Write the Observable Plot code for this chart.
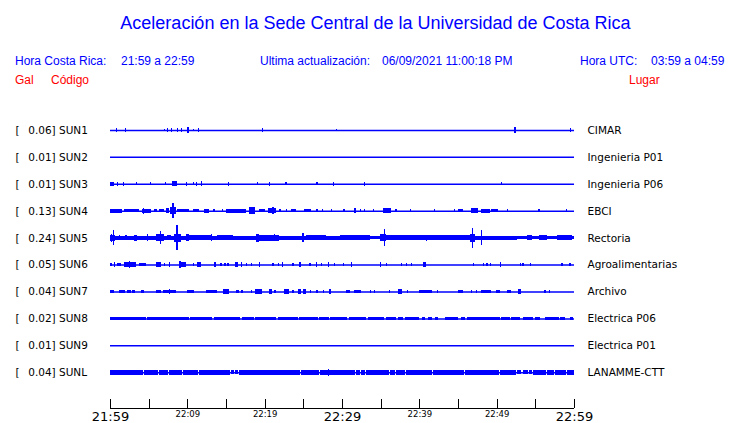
<!DOCTYPE html>
<html>
<head>
<meta charset="utf-8">
<script src="https://cdn.jsdelivr.net/npm/d3@7"></script>
<script src="https://cdn.jsdelivr.net/npm/@observablehq/plot@0.6"></script>
<style>
  html, body { margin: 0; padding: 0; background: #fff; }
  #wrap { position: relative; width: 740px; height: 423px; background: #fff; overflow: hidden; }
  .h { position: absolute; font-family: "Liberation Sans", Arial, sans-serif; font-size: 12px; line-height: 12px; white-space: pre; color: #0000ff; }
  .r { color: #ff0000; }
  #chart { position: absolute; left: 0; top: 100px; }
</style>
</head>
<body>
<div id="wrap">
  <div class="h" id="title" style="left:0;width:751px;text-align:center;top:14px;font-size:18px;line-height:18px">Aceleración en la Sede Central de la Universidad de Costa Rica</div>
  <div class="h" style="left:15px;top:55px">Hora Costa Rica:</div>
  <div class="h" style="left:121px;top:55px">21:59 a 22:59</div>
  <div class="h" style="left:260px;top:55px">Ultima actualización:</div>
  <div class="h" style="left:382px;top:55px">06/09/2021 11:00:18 PM</div>
  <div class="h" style="left:580px;top:55px">Hora UTC:</div>
  <div class="h" style="left:651px;top:55px">03:59 a 04:59</div>
  <div class="h r" style="left:15px;top:74px">Gal</div>
  <div class="h r" style="left:51px;top:74px">Código</div>
  <div class="h r" style="left:629px;top:74px">Lugar</div>
  <div id="chart"></div>
</div>
<script>
// ---- Data ----
const stations = ["SUN1", "SUN2", "SUN3", "SUN4", "SUN5", "SUN6", "SUN7", "SUN8", "SUN9", "SUNL"];
const peaks = ["0.06", "0.01", "0.01", "0.13", "0.24", "0.05", "0.04", "0.02", "0.01", "0.04"];
const places = ["CIMAR", "Ingenieria P01", "Ingenieria P06", "EBCI", "Rectoria", "Agroalimentarias", "Archivo", "Electrica P06", "Electrica P01", "LANAMME-CTT"];

// activity per station: [start minute, end minute, half amplitude (Gal)], minutes after 21:59
const sun1 = [[0.8,0.8,0.027],[1.9,1.9,0.027],[7.0,7.0,0.013],[7.4,7.4,0.02],[7.9,7.9,0.02],[8.7,8.7,0.02],[9.2,9.2,0.02],[10.0,10.2,0.05],[10.7,10.7,0.013],[11.4,11.4,0.027],[19.7,19.7,0.027],[29.2,29.2,0.013],[52.3,52.3,0.04],[59.5,59.5,0.02]];
const sun2 = [];
const sun3 = [[0,0.5,0.02],[0.95,0.95,0.027],[1.7,1.7,0.027],[3.4,3.4,0.013],[5.2,5.2,0.013],[7.1,7.1,0.013],[8.0,8.7,0.033],[9.8,9.8,0.027],[10.7,10.7,0.013],[11.1,11.1,0.02],[11.75,11.75,0.033],[15.3,15.3,0.027],[19.0,19.0,0.013],[20.6,20.6,0.027],[22.7,22.7,0.013],[26.7,26.7,0.013],[28.8,28.8,0.02],[32.8,32.8,0.027],[50.6,50.6,0.013]];
const sun4 = [[0,1.6,0.027],[1.8,3.8,0.02],[4.1,5.3,0.027],[4.3,4.3,0.047],[5.7,6.1,0.02],[6.35,7.0,0.02],[7.2,7.65,0.033],[7.7,8.5,0.053],[8.07,8.07,0.14],[8.7,10.2,0.02],[10.7,11.5,0.02],[12.2,12.8,0.027],[13.4,13.4,0.013],[14.5,14.5,0.013],[15.0,17.6,0.027],[18.0,18.8,0.053],[18.4,18.4,0.06],[19.3,20.0,0.02],[20.4,21.5,0.04],[21.0,21.0,0.053],[21.9,21.9,0.02],[22.8,22.8,0.013],[23.4,24.1,0.02],[25.1,26.0,0.02],[26.7,26.7,0.013],[27.4,27.4,0.013],[28.6,28.6,0.013],[30.2,30.2,0.013],[31.6,31.6,0.033],[32.3,32.3,0.013],[32.8,32.8,0.02],[34.0,34.0,0.013],[35.3,36.4,0.04],[36.9,36.9,0.02],[38.8,38.8,0.013],[41.9,41.9,0.02],[44.5,44.5,0.013],[45.0,45.65,0.02],[46.7,47.6,0.04],[48.0,49.1,0.027],[49.3,50.2,0.02],[51.3,51.5,0.02],[55.4,55.4,0.02],[59.0,59.0,0.013]];
const sun5 = [[0,33.6,0.027],[33.6,34.9,0.015],[34.9,46.5,0.03],[46.5,52.6,0.025],[52.6,60,0.018],[0,0.7,0.047],[0.15,0.15,0.067],[0.4,0.4,0.14],[1.2,1.2,0.033],[2.0,2.0,0.033],[3.1,3.5,0.047],[4.8,4.8,0.053],[5.9,7.0,0.053],[6.5,6.5,0.12],[7.4,7.9,0.04],[8.3,9.2,0.067],[8.6,8.6,0.235],[9.8,10.2,0.053],[10.2,13.0,0.033],[13.05,13.05,0.053],[13.9,15.85,0.04],[18.9,19.3,0.067],[19.3,21.9,0.045],[21.25,21.25,0.053],[24.9,24.9,0.08],[25.4,27.95,0.035],[29.7,33.6,0.035],[34.9,35.7,0.053],[35.4,35.4,0.153],[35.7,40.9,0.035],[40.9,40.9,0.047],[42.2,42.2,0.04],[43.5,43.5,0.04],[44.6,44.6,0.04],[45.65,46.5,0.033],[46.5,47.2,0.067],[46.8,46.8,0.187],[48.0,48.0,0.133],[53.9,54.6,0.033],[55.5,56.5,0.033],[57.8,59.7,0.033]];
const sun6 = [[0,0.3,0.02],[0.5,0.5,0.04],[0.95,1.4,0.013],[1.8,3.3,0.027],[2.5,2.5,0.047],[3.8,4.6,0.02],[5.9,6.6,0.027],[7.0,7.0,0.02],[7.65,7.65,0.027],[8.9,9.8,0.033],[9.0,9.0,0.047],[10.7,10.7,0.02],[11.3,11.75,0.027],[13.5,13.5,0.027],[14.3,14.3,0.013],[14.8,14.8,0.02],[15.2,15.2,0.02],[16.1,16.5,0.027],[16.9,16.9,0.033],[17.6,17.6,0.013],[18.2,18.2,0.013],[19.3,19.3,0.027],[21.0,21.0,0.02],[21.7,21.7,0.02],[22.25,22.25,0.027],[23.6,23.6,0.02],[24.5,24.5,0.027],[25.8,25.8,0.013],[26.65,26.65,0.04],[27.3,27.3,0.013],[28.2,28.2,0.027],[29.0,29.0,0.013],[30.1,30.1,0.013],[31.2,31.2,0.027],[34.9,34.9,0.033],[35.7,35.7,0.013],[37.6,37.6,0.02],[38.3,38.3,0.02],[38.9,38.9,0.02],[40.5,40.9,0.04],[46.9,46.9,0.02],[48.2,48.2,0.02],[48.7,48.7,0.02],[49.1,49.1,0.02],[50.4,50.4,0.027],[53.0,53.0,0.02],[53.35,53.35,0.02],[54.3,54.3,0.02],[58.4,58.4,0.02],[59.4,59.4,0.02]];
const sun7 = [[0,0.5,0.02],[1.2,2.0,0.02],[2.2,2.7,0.013],[2.9,3.2,0.02],[4.0,4.4,0.02],[5.9,6.6,0.02],[6.8,8.5,0.02],[7.65,7.65,0.033],[10.0,10.9,0.02],[12.4,13.9,0.02],[14.55,15.4,0.027],[16.3,16.7,0.02],[16.9,17.2,0.013],[18.2,18.2,0.02],[18.7,19.7,0.027],[20.5,20.9,0.027],[21.25,21.5,0.02],[22.5,23.2,0.027],[23.6,23.6,0.02],[24.3,24.7,0.027],[24.9,25.4,0.027],[25.9,25.9,0.02],[26.7,26.7,0.013],[27.5,27.5,0.02],[28.3,28.6,0.027],[30.5,31.0,0.02],[31.6,32.5,0.02],[33.6,33.6,0.02],[34.1,34.1,0.02],[36.1,36.1,0.013],[37.2,37.7,0.027],[38.4,38.4,0.02],[40.0,41.6,0.02],[42.3,42.3,0.02],[45.0,45.65,0.02],[46.7,46.7,0.02],[47.3,47.3,0.02],[48.0,49.3,0.02],[49.9,50.4,0.02],[51.3,51.9,0.02],[52.8,53.2,0.04],[56.2,56.2,0.02],[56.8,56.8,0.02]];
const sun8 = [[0,4.7,0.023],[4.8,10.2,0.022],[10.35,13.15,0.022],[13.5,16.75,0.022],[17.1,18.65,0.022],[18.8,21.45,0.022],[21.7,24.25,0.022],[24.4,26.85,0.022],[27.0,28.35,0.022],[28.5,30.7,0.022],[30.9,33.05,0.022],[33.35,35.45,0.022],[35.7,37.0,0.022],[37.2,37.9,0.02],[38.2,40.0,0.02],[40.3,40.7,0.02],[41.1,41.6,0.02],[42.0,42.4,0.02],[43.3,45.0,0.02],[45.4,45.9,0.02],[46.1,50.4,0.022],[50.6,51.7,0.02],[51.9,53.0,0.02],[53.35,54.7,0.02],[54.9,55.6,0.02],[56.2,58.0,0.02],[58.2,58.8,0.02],[59.5,59.9,0.02]];
const sun9 = [];
const sunl = [[0,4.3,0.033],[4.4,6.25,0.033],[6.35,7.55,0.033],[7.65,9.3,0.033],[9.4,11.4,0.033],[11.5,12.5,0.033],[12.6,15.5,0.033],[15.6,16.0,0.027],[16.15,16.6,0.027],[16.7,18.3,0.033],[18.4,20.5,0.033],[20.6,21.8,0.033],[21.9,24.6,0.033],[24.7,27.0,0.033],[27.1,31.7,0.033],[28.2,28.2,0.053],[31.8,32.3,0.033],[32.45,33.0,0.033],[33.1,36.05,0.033],[36.15,36.9,0.033],[37.0,38.2,0.033],[38.3,39.9,0.033],[40.0,41.7,0.033],[41.8,44.3,0.033],[44.4,45.8,0.033],[45.9,50.3,0.033],[50.4,52.5,0.033],[52.6,53.2,0.027],[53.35,54.0,0.027],[54.15,54.6,0.027],[54.7,56.4,0.033],[56.5,57.4,0.033],[57.5,58.95,0.033],[59.05,60,0.033]];
const traces = [sun1, sun2, sun3, sun4, sun5, sun6, sun7, sun8, sun9, sunl];

// time axis (minutes after 21:59)
const tickMinutes = [0, 5, 10, 15, 20, 25, 30, 35, 40, 45, 50, 55, 60];
const majorTicks = [{t: 0, label: "21:59"}, {t: 30, label: "22:29"}, {t: 60, label: "22:59"}];
const minorTicks = [{t: 10, label: "22:09"}, {t: 20, label: "22:19"}, {t: 40, label: "22:39"}, {t: 50, label: "22:49"}];

// ---- Build ----
const BLUE = "#0000ff";
const GAL_PER_ROW = 0.54;
const AXIS_Y = 10.33;
const EDGE = -0.75; // marks extend past the trace line
const rows = stations.map((code, i) => ({i, code, peak: peaks[i], place: places[i]}));
const events = traces.flatMap((tr, i) => tr.map(([t0, t1, a]) => ({i, t0, t1, a})));
const bursts = events.filter(d => d.t1 > d.t0);
const spikes = events.filter(d => d.t1 === d.t0);

const chart = Plot.plot({
  width: 740,
  height: 323,
  marginLeft: 110,
  marginRight: 166,
  marginTop: 3,
  marginBottom: 14.9,
  x: {domain: [0, 60], axis: null},
  y: {domain: [-1, AXIS_Y], reverse: true, axis: null},
  style: {fontFamily: "'DejaVu Sans', sans-serif", background: "white", overflow: "visible", color: "black"},
  marks: [
    Plot.ruleY(rows, {y: "i", x1: 0, x2: 60, stroke: BLUE, strokeWidth: 1.5}),
    Plot.rect(bursts, {x1: "t0", x2: "t1", y1: d => d.i - d.a / GAL_PER_ROW, y2: d => d.i + d.a / GAL_PER_ROW, insetTop: EDGE, insetBottom: EDGE, fill: BLUE, shapeRendering: "crispEdges"}),
    Plot.ruleX(spikes, {x: "t0", y1: d => d.i - d.a / GAL_PER_ROW, y2: d => d.i + d.a / GAL_PER_ROW, insetTop: EDGE, insetBottom: EDGE, stroke: BLUE, strokeWidth: 1.3, shapeRendering: "crispEdges"}),
    Plot.text(rows, {x: 0, y: "i", text: () => "[", dx: -95, textAnchor: "start", fontSize: 10.5, fill: "black"}),
    Plot.text(rows, {x: 0, y: "i", text: d => `${d.peak}] ${d.code}`, dx: -82.3, textAnchor: "start", fontSize: 10.5, fill: "black"}),
    Plot.text(rows, {x: 60, y: "i", text: "place", dx: 13, textAnchor: "start", fontSize: 10.5, fill: "black"}),
    Plot.ruleY([AXIS_Y], {x1: 0, x2: 60, stroke: "black", strokeWidth: 1, shapeRendering: "crispEdges"}),
    Plot.ruleX(tickMinutes, {x: d => d, y1: 10.0, y2: AXIS_Y, stroke: "black", strokeWidth: 1, shapeRendering: "crispEdges"}),
    Plot.text(majorTicks, {x: "t", y: AXIS_Y, text: "label", dy: 8.5, fontSize: 13, fill: "black"}),
    Plot.text(minorTicks, {x: "t", y: AXIS_Y, text: "label", dy: 6, fontSize: 8.5, fill: "black"})
  ]
});
document.getElementById("chart").appendChild(chart);
</script>
</body>
</html>
